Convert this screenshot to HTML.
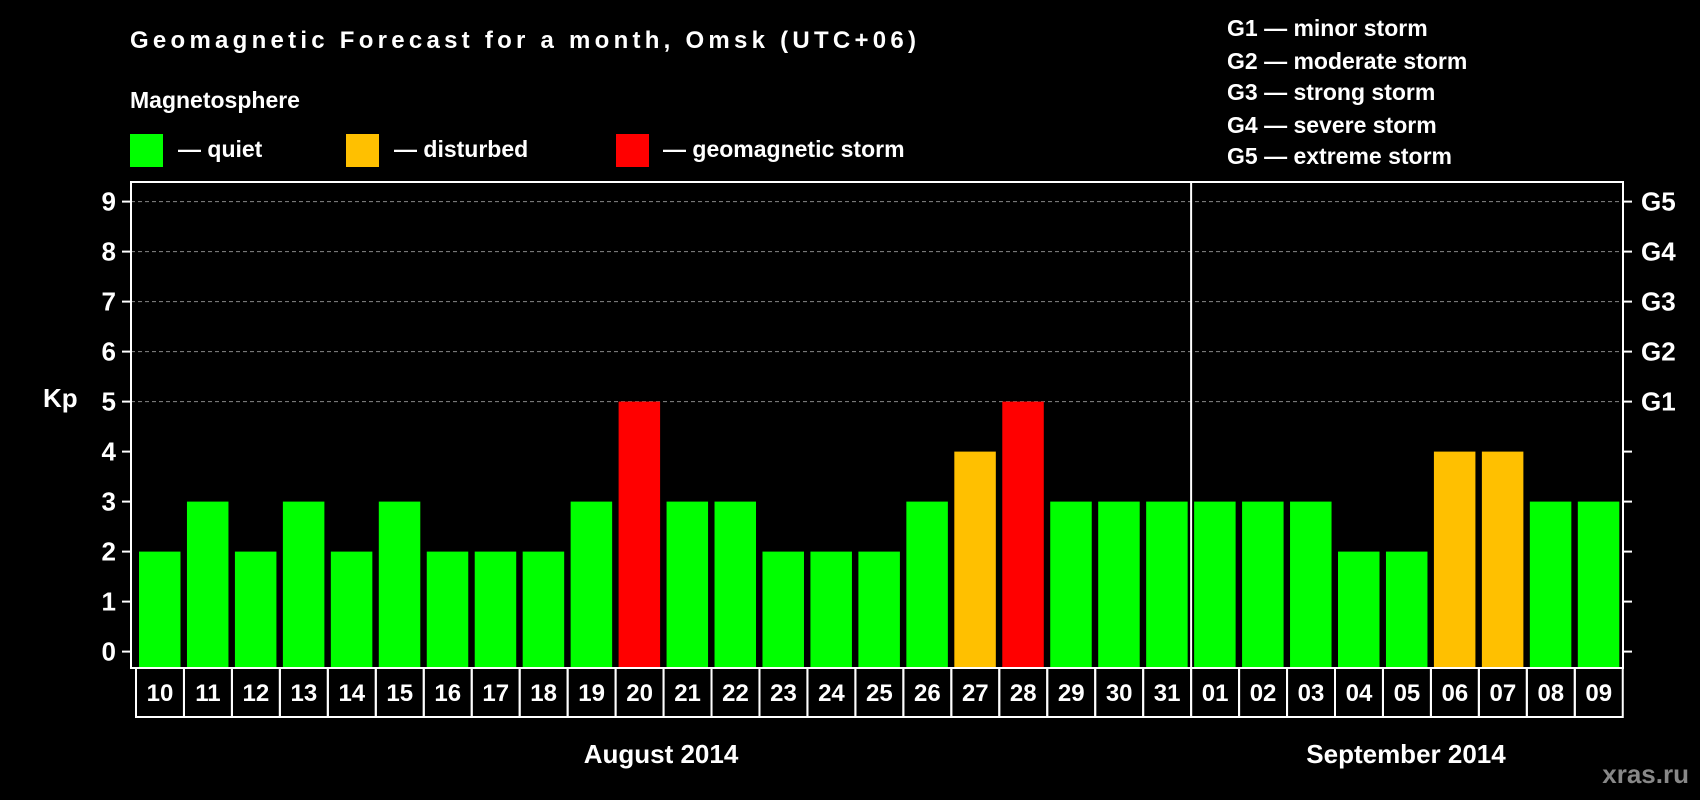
<!DOCTYPE html>
<html><head><meta charset="utf-8"><style>
html,body{margin:0;padding:0;background:#000;}
svg{display:block;font-family:"Liberation Sans",Arial,sans-serif;font-weight:bold;}
</style></head><body>
<svg id="chart" width="1700" height="800" viewBox="0 0 1700 800">
<rect width="1700" height="800" fill="#000"/>
<text x="130" y="48" fill="#fff" font-size="24" textLength="786">Geomagnetic Forecast for a month, Omsk (UTC+06)</text>
<text x="130" y="108" fill="#fff" font-size="23">Magnetosphere</text>
<g>
<rect x="130" y="134" width="33" height="33" fill="#00ff00"/>
<text x="178" y="157" fill="#fff" font-size="23">— quiet</text>
<rect x="346" y="134" width="33" height="33" fill="#ffc000"/>
<text x="394" y="157" fill="#fff" font-size="23">— disturbed</text>
<rect x="616" y="134" width="33" height="33" fill="#ff0000"/>
<text x="663" y="157" fill="#fff" font-size="23">— geomagnetic storm</text>
</g>
<g fill="#fff" font-size="23">
<text x="1227" y="36">G1 — minor storm</text>
<text x="1227" y="69">G2 — moderate storm</text>
<text x="1227" y="100">G3 — strong storm</text>
<text x="1227" y="133">G4 — severe storm</text>
<text x="1227" y="164">G5 — extreme storm</text>
</g>
<g id="grid"></g>
<g id="bars"></g>
<g id="axes"></g>
<text x="43" y="407" fill="#fff" font-size="26">Kp</text>
<text x="661" y="763" fill="#fff" font-size="26" text-anchor="middle">August 2014</text>
<text x="1406" y="763" fill="#fff" font-size="26" text-anchor="middle">September 2014</text>
<text x="1689" y="783" fill="#888" font-size="26" text-anchor="end">xras.ru</text>
</svg>
<script>
const days = ["10","11","12","13","14","15","16","17","18","19","20","21","22","23","24","25","26","27","28","29","30","31","01","02","03","04","05","06","07","08","09"];
const kpValues = [2,3,2,3,2,3,2,2,2,3,5,3,3,2,2,2,3,4,5,3,3,3,3,3,3,2,2,4,4,3,3];
const yTicks = [0,1,2,3,4,5,6,7,8,9];
const gLabels = ["G1","G2","G3","G4","G5"];
const gLevels = [5,6,7,8,9];

const NS = "http://www.w3.org/2000/svg";
const L = 131, R = 1623, T = 182, B = 668;
const y0 = 651.6, unit = 50;
const pitch = 47.96, bx0 = 139, bw = 41.5;
const yScale = v => y0 - v * unit;
const xScale = i => bx0 + i * pitch;
function mk(tag, attrs, parent) {
  const e = document.createElementNS(NS, tag);
  for (const k in attrs) e.setAttribute(k, attrs[k]);
  parent.appendChild(e);
  return e;
}
const grid = document.getElementById("grid");
const bars = document.getElementById("bars");
const axes = document.getElementById("axes");

gLevels.forEach(v => {
  const ln = mk("line", {x1: L, x2: R, y1: yScale(v), y2: yScale(v), stroke: "#888", "stroke-dasharray": "4,3", "stroke-width": 1}, grid);
  
  
});

kpValues.forEach((v, i) => {
  const color = v >= 5 ? "#ff0000" : (v >= 4 ? "#ffc000" : "#00ff00");
  const r = mk("rect", {x: xScale(i), y: yScale(v), width: bw, height: B - yScale(v), fill: color}, bars);
  
  
});

// plot frame
const frame = mk("rect", {x: L, y: T, width: R - L, height: B - T, fill: "none", stroke: "#fff", "stroke-width": 2}, axes);


// month divider
const divX = xScale(22) - 3;
const dv = mk("line", {x1: divX, x2: divX, y1: T, y2: B, stroke: "#fff", "stroke-width": 2}, axes);



yTicks.forEach(v => {
  const y = yScale(v);
  const t1 = mk("line", {x1: L - 9, x2: L, y1: y, y2: y, stroke: "#fff", "stroke-width": 2}, axes);
  
  
  const t2 = mk("line", {x1: R, x2: R + 9, y1: y, y2: y, stroke: "#fff", "stroke-width": 2}, axes);
  
  
  const tx = mk("text", {x: 116, y: y + 9, fill: "#fff", "font-size": 26, "text-anchor": "end"}, axes);
  tx.textContent = v;
  
  
});
gLabels.forEach((g, i) => {
  const tx = mk("text", {x: 1641, y: yScale(gLevels[i]) + 9, fill: "#fff", "font-size": 26}, axes);
  tx.textContent = g;
  
  
});

// day label boxes
const boxTop = B, boxBot = 717;
days.forEach((d, i) => {
  const x1 = xScale(i) - 3, x2 = xScale(i + 1) - 3;
  const bx = mk("rect", {x: x1, y: boxTop, width: x2 - x1, height: boxBot - boxTop, fill: "none", stroke: "#fff", "stroke-width": 2}, axes);
  
  
  const tx = mk("text", {x: (x1 + x2) / 2, y: 701, fill: "#fff", "font-size": 24, "text-anchor": "middle"}, axes);
  tx.textContent = d;
  
  
});
</script>
</body></html>
